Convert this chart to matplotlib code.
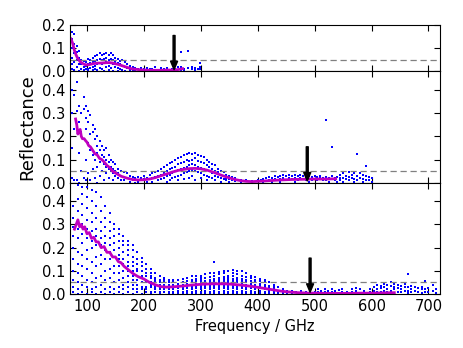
import matplotlib
matplotlib.use("Agg")
import matplotlib.pyplot as plt

# ---- data ----
# top panel: scatter columns (GHz) and reflectance values in each column
t_freq = [74, 78, 82, 86, 90, 94, 98, 102, 106, 110, 114, 118, 122, 126, 130, 134, 138, 142,
          146, 150, 154, 158, 162, 166, 170, 175, 180, 185, 190, 195, 200, 205, 210, 215, 220,
          225, 230, 235, 240, 245, 250, 255, 260, 265, 270, 278, 285, 290, 295, 299]
t_vals = [[0.17, 0.14, 0.10, 0.06, 0.03, 0.01], [0.16, 0.12, 0.08, 0.04, 0.005],
          [0.11, 0.085, 0.05, 0.02], [0.09, 0.06, 0.03, 0.0], [0.05, 0.03, 0.01],
          [0.045, 0.02, 0.005], [0.04, 0.025, 0.01], [0.055, 0.03, 0.01, 0.0],
          [0.05, 0.035, 0.015], [0.06, 0.04, 0.02, 0.005], [0.065, 0.045, 0.025, 0.01],
          [0.07, 0.05, 0.03, 0.005], [0.08, 0.055, 0.035, 0.015], [0.07, 0.05, 0.03, 0.01],
          [0.075, 0.055, 0.035, 0.0], [0.08, 0.06, 0.04, 0.02], [0.07, 0.05, 0.025, 0.005],
          [0.08, 0.055, 0.035, 0.015], [0.07, 0.05, 0.03, 0.0], [0.06, 0.04, 0.02],
          [0.055, 0.035, 0.015, 0.0], [0.045, 0.03, 0.01], [0.05, 0.025, 0.005],
          [0.04, 0.02, 0.0], [0.03, 0.015], [0.025, 0.01, 0.0], [0.02, 0.005], [0.015, 0.005],
          [0.012], [0.015, 0.005], [0.01], [0.015, 0.003], [0.01], [0.012, 0.004], [0.018],
          [0.008], [0.015, 0.004], [0.01], [0.014, 0.005], [0.008], [0.012], [0.01, 0.003],
          [0.018], [0.084, 0.02, 0.008], [0.012, 0.004], [0.087, 0.015], [0.01, 0.02],
          [0.015, 0.005], [0.012], [0.036, 0.02, 0.01]]
t_line_f = [72, 75, 78, 81, 84, 88, 92, 96, 100, 105, 110, 115, 120, 125, 130, 135, 140, 145,
            150, 155, 160, 165, 170, 175, 180, 190, 200, 210, 220, 230, 240, 250, 260, 268]
t_line_r = [0.14, 0.12, 0.09, 0.07, 0.055, 0.042, 0.035, 0.03, 0.028, 0.03, 0.033, 0.035,
            0.036, 0.036, 0.037, 0.038, 0.038, 0.036, 0.033, 0.03, 0.026, 0.022, 0.018, 0.014,
            0.011, 0.008, 0.006, 0.005, 0.005, 0.005, 0.006, 0.006, 0.008, 0.012]

# middle panel
m_freq = [74, 78, 82, 86, 90, 94, 98, 102, 106, 110, 114, 118, 122, 126, 130, 134, 138, 142,
          146, 150, 155, 160, 165, 170, 175, 180, 185, 190, 195, 200, 205, 210, 215, 220, 225,
          230, 235, 240, 245, 250, 255, 260, 265, 270, 275, 280, 285, 290, 295, 300, 305, 310,
          315, 320, 325, 330, 335, 340, 345, 350, 355, 360, 370, 380, 390, 400, 405, 410, 415,
          420, 425, 430, 435, 440, 445, 450, 455, 460, 465, 470, 475, 480, 485, 490, 495, 500,
          505, 510, 515, 520, 525, 530, 535, 540, 545, 550, 555, 560, 565, 570, 575, 580, 585,
          590, 595, 600]
m_vals = [[0.40, 0.30, 0.15, 0.02], [0.38, 0.23, 0.01], [0.435, 0.31, 0.01],
          [0.33, 0.26, 0.13, 0.0], [0.30, 0.22, 0.05], [0.37, 0.32, 0.19, 0.02],
          [0.33, 0.28, 0.23, 0.10, 0.01], [0.31, 0.26, 0.17, 0.04], [0.29, 0.21, 0.14, 0.01],
          [0.25, 0.22, 0.12, 0.06], [0.23, 0.19, 0.10, 0.02], [0.20, 0.16, 0.13, 0.07, 0.0],
          [0.18, 0.14, 0.09, 0.03], [0.16, 0.12, 0.10, 0.05], [0.14, 0.11, 0.08, 0.01],
          [0.15, 0.10, 0.07, 0.04], [0.12, 0.09, 0.06, 0.02], [0.10, 0.07, 0.05],
          [0.09, 0.06, 0.04, 0.01], [0.08, 0.05, 0.03], [0.06, 0.04, 0.02], [0.05, 0.03, 0.01],
          [0.045, 0.025, 0.01], [0.04, 0.02], [0.03, 0.015, 0.005], [0.025, 0.01],
          [0.02, 0.01, 0.0], [0.025, 0.005], [0.02, 0.01], [0.03, 0.015], [0.02, 0.005],
          [0.035, 0.015], [0.04, 0.02, 0.005], [0.045, 0.025], [0.05, 0.03, 0.01],
          [0.06, 0.035, 0.015], [0.07, 0.04, 0.02], [0.075, 0.05, 0.03, 0.005],
          [0.085, 0.06, 0.035, 0.01], [0.09, 0.065, 0.04, 0.02], [0.10, 0.07, 0.05, 0.025],
          [0.105, 0.08, 0.055, 0.03, 0.01], [0.11, 0.085, 0.06, 0.035],
          [0.12, 0.09, 0.065, 0.04, 0.015], [0.125, 0.10, 0.07, 0.045],
          [0.13, 0.095, 0.075, 0.05, 0.02], [0.125, 0.10, 0.08, 0.055, 0.03],
          [0.13, 0.105, 0.075, 0.05, 0.01], [0.12, 0.095, 0.07, 0.045],
          [0.115, 0.09, 0.065, 0.04, 0.02], [0.11, 0.085, 0.06, 0.035],
          [0.10, 0.075, 0.055, 0.03, 0.01], [0.09, 0.07, 0.05, 0.025], [0.08, 0.06, 0.04, 0.02],
          [0.075, 0.05, 0.03, 0.01], [0.06, 0.045, 0.025], [0.05, 0.035, 0.02, 0.005],
          [0.045, 0.03, 0.015], [0.035, 0.02, 0.01], [0.03, 0.015, 0.005], [0.025, 0.01],
          [0.02, 0.008], [0.01, 0.0], [0.012], [0.008, 0.0], [0.01], [0.01], [0.015, 0.005],
          [0.02], [0.025, 0.01], [0.02, 0.005], [0.03, 0.015], [0.025, 0.01],
          [0.03, 0.015, 0.005], [0.035, 0.02], [0.03, 0.01], [0.035, 0.02], [0.03, 0.015],
          [0.035, 0.02, 0.005], [0.03, 0.01], [0.035, 0.02], [0.03, 0.015], [0.025, 0.01],
          [0.03, 0.015, 0.005], [0.025, 0.01], [0.03, 0.015], [0.025, 0.01], [0.03, 0.02],
          [0.02, 0.01], [0.27, 0.025, 0.01], [0.02, 0.005], [0.152, 0.03, 0.015], [0.02, 0.01],
          [0.025, 0.005], [0.035, 0.02, 0.01], [0.04, 0.02, 0.005], [0.03, 0.015],
          [0.045, 0.025, 0.01], [0.035, 0.02], [0.04, 0.015, 0.005], [0.126, 0.03, 0.01],
          [0.04, 0.02], [0.035, 0.015, 0.005], [0.073, 0.03, 0.01], [0.025, 0.01], [0.02, 0.005]]
m_line_f = [80, 82, 84, 86, 88, 90, 92, 95, 98, 100, 103, 106, 110, 114, 118, 122, 126, 130,
            135, 140, 145, 150, 155, 160, 165, 170, 175, 180, 185, 190, 200, 210, 220, 230,
            240, 250, 260, 270, 280, 290, 300, 310, 320, 330, 340, 350, 360, 370, 380, 390,
            400, 420, 440, 460, 480, 500, 520, 537]
m_line_r = [0.275, 0.25, 0.21, 0.225, 0.23, 0.20, 0.19, 0.19, 0.18, 0.175, 0.16, 0.155, 0.14,
            0.125, 0.12, 0.105, 0.10, 0.09, 0.075, 0.065, 0.05, 0.042, 0.035, 0.028, 0.024,
            0.02, 0.017, 0.014, 0.013, 0.012, 0.013, 0.016, 0.022, 0.03, 0.038, 0.046, 0.053,
            0.058, 0.061, 0.062, 0.06, 0.055, 0.047, 0.038, 0.029, 0.021, 0.014, 0.009, 0.006,
            0.005, 0.006, 0.009, 0.012, 0.014, 0.015, 0.016, 0.016, 0.017]

# bottom panel
b_freq = [76, 84, 92, 100, 108, 116, 124, 132, 140, 148, 156, 164, 172, 180, 188, 196, 204,
          212, 220, 228, 236, 244, 252, 260, 268, 276, 284, 292, 300, 308, 316, 324, 332, 340,
          348, 356, 364, 372, 380, 388, 396, 404, 412, 420, 428, 436, 444, 452,
          460, 468, 476, 484, 500, 506, 512, 518, 524, 530, 536, 542, 548, 556, 566, 572, 580,
          586, 598, 604, 610, 616, 622, 628, 634, 640, 646, 652, 658, 664, 670, 676, 682, 688,
          694, 700, 708, 714]
b_vals = [[0.01, 0.03, 0.06, 0.10, 0.15, 0.20, 0.25, 0.29, 0.33, 0.38],
          [0.00, 0.02, 0.05, 0.09, 0.13, 0.18, 0.24, 0.28, 0.31, 0.36, 0.41, 0.47],
          [0.01, 0.04, 0.08, 0.12, 0.17, 0.22, 0.26, 0.30, 0.34, 0.39, 0.43, 0.46],
          [0.00, 0.03, 0.06, 0.11, 0.15, 0.19, 0.24, 0.28, 0.32, 0.37, 0.42, 0.46],
          [0.01, 0.02, 0.05, 0.09, 0.14, 0.20, 0.23, 0.27, 0.31, 0.35, 0.40, 0.45],
          [0.00, 0.03, 0.07, 0.12, 0.16, 0.21, 0.25, 0.28, 0.33, 0.38, 0.44],
          [0.01, 0.04, 0.08, 0.13, 0.17, 0.21, 0.24, 0.27, 0.31, 0.36, 0.42],
          [0.00, 0.02, 0.06, 0.10, 0.15, 0.19, 0.22, 0.25, 0.29, 0.33, 0.38],
          [0.01, 0.03, 0.07, 0.11, 0.15, 0.18, 0.21, 0.24, 0.27, 0.31, 0.35],
          [0.00, 0.02, 0.05, 0.09, 0.12, 0.16, 0.19, 0.22, 0.25, 0.28, 0.30],
          [0.01, 0.03, 0.06, 0.09, 0.12, 0.15, 0.17, 0.20, 0.23, 0.26, 0.28],
          [0.00, 0.02, 0.04, 0.07, 0.10, 0.13, 0.15, 0.18, 0.21, 0.23, 0.25],
          [0.01, 0.03, 0.05, 0.08, 0.10, 0.12, 0.14, 0.17, 0.19, 0.21, 0.23],
          [0.00, 0.02, 0.04, 0.06, 0.08, 0.10, 0.12, 0.14, 0.16, 0.19, 0.21],
          [0.01, 0.02, 0.04, 0.06, 0.08, 0.10, 0.11, 0.13, 0.15, 0.18],
          [0.00, 0.02, 0.03, 0.05, 0.07, 0.08, 0.10, 0.12, 0.14, 0.155],
          [0.01, 0.02, 0.03, 0.05, 0.06, 0.08, 0.09, 0.11, 0.13],
          [0.00, 0.01, 0.03, 0.04, 0.05, 0.07, 0.08, 0.09, 0.11],
          [0.01, 0.02, 0.03, 0.04, 0.05, 0.06, 0.07, 0.09],
          [0.00, 0.01, 0.02, 0.03, 0.04, 0.05, 0.06, 0.08],
          [0.01, 0.02, 0.03, 0.04, 0.05, 0.06, 0.07],
          [0.00, 0.01, 0.02, 0.03, 0.04, 0.05, 0.06],
          [0.00, 0.01, 0.02, 0.03, 0.04, 0.05, 0.06],
          [0.005, 0.015, 0.025, 0.035, 0.045, 0.06],
          [0.00, 0.01, 0.02, 0.03, 0.04, 0.05, 0.065],
          [0.005, 0.015, 0.025, 0.035, 0.045, 0.055, 0.07],
          [0.00, 0.01, 0.02, 0.03, 0.04, 0.05, 0.06, 0.08],
          [0.005, 0.015, 0.025, 0.035, 0.045, 0.055, 0.065, 0.08],
          [0.00, 0.01, 0.02, 0.03, 0.04, 0.05, 0.06, 0.07, 0.08],
          [0.005, 0.015, 0.025, 0.035, 0.045, 0.055, 0.07, 0.085],
          [0.00, 0.01, 0.02, 0.03, 0.04, 0.05, 0.06, 0.075, 0.09],
          [0.005, 0.015, 0.025, 0.035, 0.045, 0.055, 0.065, 0.08, 0.09, 0.14],
          [0.00, 0.01, 0.02, 0.03, 0.04, 0.05, 0.06, 0.07, 0.085, 0.095],
          [0.005, 0.015, 0.025, 0.035, 0.045, 0.055, 0.065, 0.075, 0.09, 0.10],
          [0.00, 0.01, 0.02, 0.03, 0.04, 0.05, 0.06, 0.07, 0.08, 0.10],
          [0.005, 0.015, 0.025, 0.035, 0.045, 0.055, 0.065, 0.08, 0.09, 0.105],
          [0.00, 0.01, 0.02, 0.03, 0.04, 0.05, 0.06, 0.07, 0.085, 0.10],
          [0.005, 0.015, 0.025, 0.035, 0.045, 0.055, 0.065, 0.08, 0.10],
          [0.00, 0.01, 0.02, 0.03, 0.04, 0.05, 0.06, 0.075, 0.09],
          [0.005, 0.015, 0.025, 0.035, 0.045, 0.055, 0.07, 0.08],
          [0.00, 0.01, 0.02, 0.03, 0.04, 0.05, 0.06, 0.075],
          [0.005, 0.015, 0.025, 0.035, 0.045, 0.055, 0.065],
          [0.00, 0.01, 0.02, 0.03, 0.04, 0.05, 0.06],
          [0.005, 0.015, 0.025, 0.035, 0.05],
          [0.00, 0.01, 0.02, 0.03, 0.04],
          [0.005, 0.015, 0.03], [0.00, 0.01, 0.02], [0.005, 0.015],
          [0.015, 0.005], [0.01], [0.012, 0.003], [0.008], [0.01], [0.02, 0.01], [0.015],
          [0.02, 0.008], [0.015], [0.02, 0.01], [0.012], [0.018], [0.02, 0.01], [0.008],
          [0.02, 0.01], [0.025, 0.012], [0.02], [0.015, 0.005], [0.02, 0.01],
          [0.03, 0.015, 0.005], [0.04, 0.02, 0.01], [0.035, 0.025, 0.01],
          [0.045, 0.03, 0.015, 0.005], [0.04, 0.02, 0.01], [0.05, 0.035, 0.015],
          [0.045, 0.03, 0.02, 0.005], [0.04, 0.025, 0.01], [0.035, 0.02, 0.01],
          [0.045, 0.03, 0.015], [0.085, 0.03, 0.015, 0.005], [0.035, 0.02, 0.01],
          [0.03, 0.015], [0.025, 0.01], [0.03, 0.02, 0.005], [0.055, 0.02, 0.01],
          [0.025, 0.01], [0.04, 0.015], [0.02, 0.005]]
b_line_f = [78, 81, 84, 87, 90, 93, 96, 100, 104, 108, 112, 116, 120, 125, 130, 135, 140, 145,
            150, 155, 160, 165, 170, 175, 180, 185, 190, 195, 200, 210, 220, 230, 240, 250,
            260, 270, 280, 290, 300, 310, 320, 330, 340, 350, 360, 370, 380, 390, 400, 410,
            420, 430, 440, 450, 460, 470, 480, 490, 500, 520, 540, 560, 580, 600, 620, 640]
b_line_r = [0.28, 0.30, 0.32, 0.29, 0.30, 0.28, 0.29, 0.26, 0.265, 0.24, 0.245, 0.225, 0.225,
            0.20, 0.205, 0.18, 0.18, 0.16, 0.16, 0.14, 0.135, 0.12, 0.11, 0.10, 0.09, 0.082,
            0.075, 0.07, 0.065, 0.05, 0.04, 0.032, 0.03, 0.031, 0.033, 0.035, 0.038, 0.04,
            0.042, 0.043, 0.044, 0.044, 0.044, 0.043, 0.041, 0.039, 0.036, 0.033, 0.029, 0.025,
            0.021, 0.017, 0.013, 0.01, 0.008, 0.006, 0.005, 0.004, 0.004, 0.003, 0.003, 0.003,
            0.004, 0.004, 0.005, 0.006]

arrow_f = [253, 487, 492]  # cut-off frequency marked in each panel
limit = 0.05


def columns(freq, vals):
    xs, ys = [], []
    for f, v in zip(freq, vals):
        xs += [f] * len(v)
        ys += v
    return xs, ys


plt.rcParams['xtick.direction'] = 'in'
plt.rcParams['ytick.direction'] = 'in'
plt.rcParams['xtick.top'] = True
plt.rcParams['ytick.right'] = True
plt.rcParams['xtick.major.size'] = 4
plt.rcParams['ytick.major.size'] = 4

fig = plt.figure(figsize=(4.63, 3.48), dpi=100)
gs = fig.add_gridspec(3, 1, height_ratios=[0.2, 0.48, 0.48], hspace=0,
                      left=0.151, right=0.950, top=0.928, bottom=0.155)
axes = [fig.add_subplot(gs[i]) for i in range(3)]

panels = [(t_freq, t_vals, t_line_f, t_line_r, 0.2, [0.0, 0.1, 0.2]),
          (m_freq, m_vals, m_line_f, m_line_r, 0.48, [0.0, 0.1, 0.2, 0.3, 0.4]),
          (b_freq, b_vals, b_line_f, b_line_r, 0.48, [0.0, 0.1, 0.2, 0.3, 0.4])]

for ax, (cf, cv, lf, lr, ytop, yt), af in zip(axes, panels, arrow_f):
    xs, ys = columns(cf, cv)
    ax.plot(xs, ys, 's', color='blue', ms=1.6, mew=0)
    ax.axhline(limit, color='gray', lw=0.9, ls='--', dashes=(5, 3))
    ax.plot(lf, lr, '-', color='m', lw=2.0)
    ax.annotate('', xy=(af, 0.008), xytext=(af, 0.155),
                arrowprops=dict(facecolor='black', edgecolor='black', width=1.4,
                                headwidth=5, headlength=6, shrink=0))
    ax.set_xlim(70, 720)
    ax.set_ylim(0, ytop)
    ax.set_yticks(yt)
    ax.set_xticks([100, 200, 300, 400, 500, 600, 700])
    ax.tick_params(labelsize=10.5)
    if ax is not axes[2]:
        ax.tick_params(labelbottom=False)

axes[1].set_ylabel('Reflectance', fontsize=13)
axes[2].set_xlabel('Frequency / GHz', fontsize=10.5)

fig.savefig('out.png', dpi=100)
